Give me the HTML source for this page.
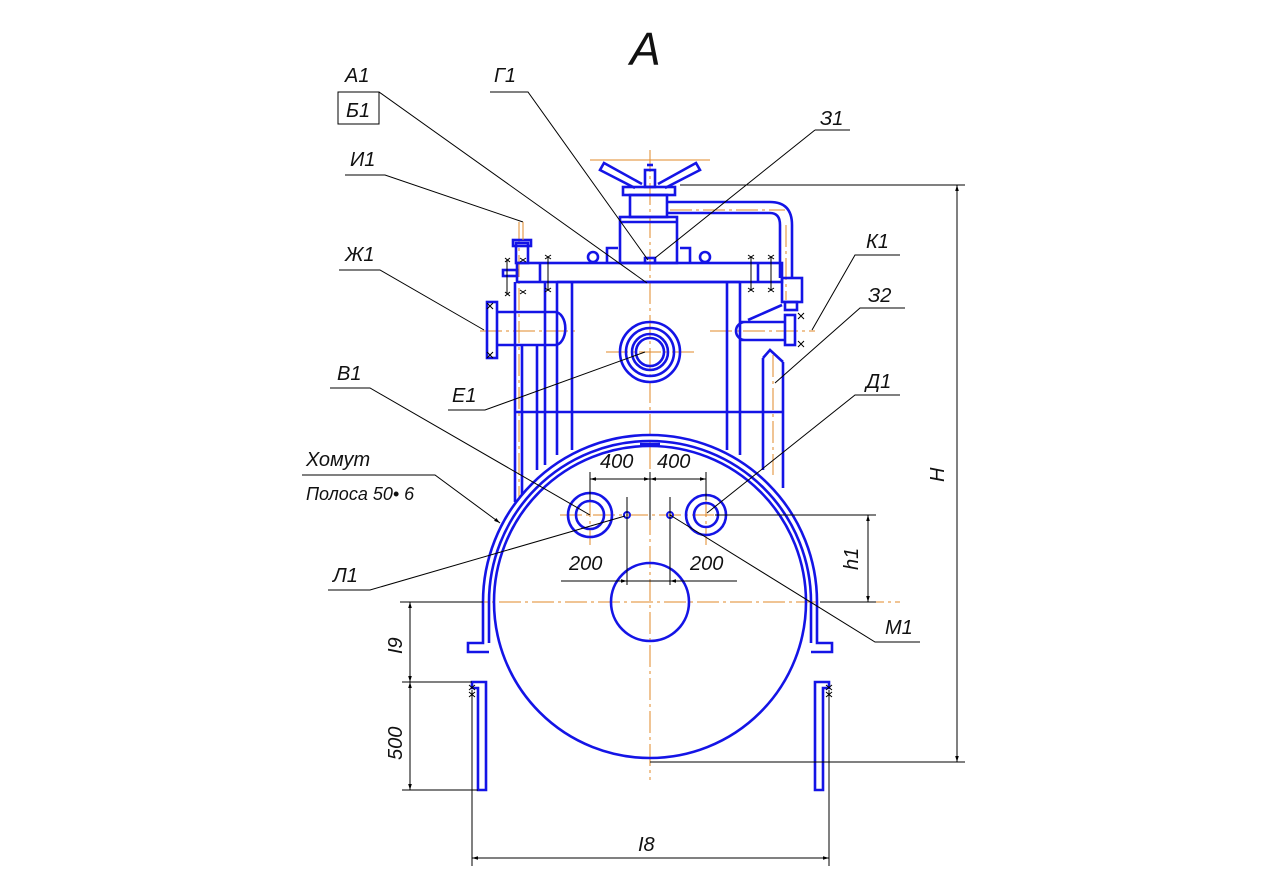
<!DOCTYPE html>
<html><head><meta charset="utf-8"><style>
html,body{margin:0;padding:0;background:#fff}
svg{display:block}
text{font-family:"Liberation Sans",sans-serif;font-style:italic;fill:#111}
</style></head><body>
<svg width="1282" height="888" viewBox="0 0 1282 888" xmlns="http://www.w3.org/2000/svg">
<defs>
<marker id="ar" viewBox="0 0 10 10" refX="10" refY="5" markerWidth="10" markerHeight="6" orient="auto-start-reverse"><path d="M0,2 L10,5 L0,8 z" fill="#000"/></marker>
</defs>
<g stroke="#e08a2a" stroke-width="1" stroke-dasharray="22,4,3,4" fill="none">
<line x1="650" y1="150" x2="650" y2="780"/>
<line x1="400" y1="602" x2="900" y2="602"/>
<line x1="560" y1="515" x2="740" y2="515"/>
<line x1="606" y1="352" x2="694" y2="352"/>
<line x1="480" y1="331" x2="578" y2="331"/>
<line x1="710" y1="331" x2="815" y2="331"/>
<line x1="519" y1="222" x2="519" y2="500"/>
<line x1="773" y1="355" x2="773" y2="475"/>
<line x1="590" y1="160" x2="710" y2="160" stroke-dasharray="none"/>
<line x1="670" y1="210" x2="785" y2="210"/>
<line x1="786" y1="225" x2="786" y2="300"/>
<line x1="590" y1="495" x2="590" y2="545"/>
<line x1="706" y1="495" x2="706" y2="545"/>
</g>
<g stroke="#1414e6" stroke-width="2.6" fill="none">
<path d="M489,643 L489,602 A161,161 0 0 1 811,602 L811,643"/>
<path d="M483,602 A167,167 0 0 1 817,602"/>
<circle cx="650" cy="602" r="156"/>
<circle cx="650" cy="602" r="39"/>
<path d="M483,602 L483,643 L468,643 L468,652 L489,652"/>
<path d="M817,602 L817,643 L832,643 L832,652 L811,652"/>
<path d="M472,682 L486,682 L486,790 L478,790 L478,688 L472,688 Z"/>
<path d="M829,682 L815,682 L815,790 L823,790 L823,688 L829,688 Z"/>
<circle cx="590" cy="515" r="22"/><circle cx="590" cy="515" r="14"/>
<circle cx="706" cy="515" r="20"/><circle cx="706" cy="515" r="12"/>
<circle cx="627" cy="515" r="3" stroke-width="2"/><circle cx="670" cy="515" r="3" stroke-width="2"/>
<line x1="640" y1="444" x2="660" y2="444"/>
<line x1="515" y1="282" x2="515" y2="502"/>
<line x1="522" y1="345" x2="522" y2="495"/>
<line x1="537" y1="345" x2="537" y2="470"/>
<line x1="545" y1="282" x2="545" y2="465"/>
<line x1="557" y1="282" x2="557" y2="455"/>
<line x1="572" y1="282" x2="572" y2="450"/>
<line x1="727" y1="282" x2="727" y2="450"/>
<line x1="740" y1="282" x2="740" y2="455"/>
<line x1="763" y1="358" x2="763" y2="470"/>
<line x1="783" y1="362" x2="783" y2="488"/>
<path d="M763,358 L770,350 L783,362"/>
<line x1="515" y1="412" x2="783" y2="412"/>
<line x1="557" y1="282" x2="740" y2="282"/>
<rect x="517" y="263" width="265" height="19"/>
<line x1="540" y1="263" x2="540" y2="282"/>
<line x1="758" y1="263" x2="758" y2="282"/>
<rect x="503" y="270" width="14" height="6"/>
<rect x="516" y="243" width="12" height="20"/>
<rect x="513" y="240" width="18" height="6"/>
<rect x="620" y="217" width="57" height="46"/>
<line x1="620" y1="222" x2="677" y2="222"/>
<path d="M607,263 L607,248 L618,248 M690,263 L690,248 L680,248"/>
<rect x="630" y="195" width="37" height="22"/>
<rect x="623" y="187" width="52" height="8"/>
<rect x="645" y="170" width="10" height="17"/>
<line x1="647" y1="165" x2="653" y2="165"/>
<path d="M642,184 L604,163 L600,170 L635,188"/>
<path d="M658,184 L696,163 L700,170 L665,188"/>
<rect x="645" y="258" width="10" height="5"/>
<circle cx="593" cy="257" r="5"/><circle cx="705" cy="257" r="5"/>
<path d="M667,202 L770,202 Q792,202 792,225 L792,278"/>
<path d="M667,213 L770,213 Q780,213 780,225 L780,278"/>
<rect x="782" y="278" width="20" height="24"/>
<rect x="785" y="302" width="12" height="8"/>
<path d="M740,322 L785,322 M740,340 L785,340 M745,322 A9,9 0 0 0 745,340"/>
<path d="M748,320 L782,305"/>
<rect x="785" y="315" width="10" height="30"/>
<path d="M497,312 L555,312 A10,16 0 0 1 555,345 L497,345"/>
<rect x="487" y="302" width="10" height="56"/>
<circle cx="650" cy="352" r="30"/>
<circle cx="650" cy="352" r="24"/>
<circle cx="650" cy="352" r="18"/>
<circle cx="650" cy="352" r="14"/>
</g>
<g stroke="#000" stroke-width="1" fill="none">
<path d="M505,258 L510,262 M510,258 L505,262 M505,292 L510,296 M510,292 L505,296 M507,260 L507,294"/>
<path d="M520,258 L526,262 M526,258 L520,262 M520,290 L526,294 M526,290 L520,294"/>
<path d="M545,255 L551,259 M551,255 L545,259 M545,288 L551,292 M551,288 L545,292 M548,257 L548,290"/>
<path d="M748,255 L754,259 M754,255 L748,259 M748,288 L754,292 M754,288 L748,292 M751,257 L751,290"/>
<path d="M768,255 L774,259 M774,255 L768,259 M768,288 L774,292 M774,288 L768,292 M771,257 L771,290"/>
<path d="M487,303 L493,309 M493,303 L487,309 M487,352 L493,358 M493,352 L487,358"/>
<path d="M798,313 L804,319 M804,313 L798,319 M798,341 L804,347 M804,341 L798,347"/>
<path d="M469,685 L475,690 M475,685 L469,690 M469,692 L475,697 M475,692 L469,697"/>
<path d="M826,685 L832,690 M832,685 L826,690 M826,692 L832,697 M832,692 L826,697"/>
</g>
<g stroke="#000" stroke-width="1" fill="none">
<line x1="680" y1="185" x2="965" y2="185"/>
<line x1="650" y1="762" x2="965" y2="762"/>
<line x1="957" y1="185" x2="957" y2="762" marker-start="url(#ar)" marker-end="url(#ar)"/>
<line x1="715" y1="515" x2="876" y2="515"/>
<line x1="820" y1="602" x2="876" y2="602"/>
<line x1="868" y1="515" x2="868" y2="602" marker-start="url(#ar)" marker-end="url(#ar)"/>
<line x1="400" y1="602" x2="483" y2="602"/>
<line x1="402" y1="682" x2="472" y2="682"/>
<line x1="402" y1="790" x2="478" y2="790"/>
<line x1="410" y1="602" x2="410" y2="682" marker-start="url(#ar)" marker-end="url(#ar)"/>
<line x1="410" y1="682" x2="410" y2="790" marker-start="url(#ar)" marker-end="url(#ar)"/>
<line x1="472" y1="690" x2="472" y2="866"/>
<line x1="829" y1="690" x2="829" y2="866"/>
<line x1="472" y1="858" x2="829" y2="858" marker-start="url(#ar)" marker-end="url(#ar)"/>
<line x1="590" y1="472" x2="590" y2="500"/>
<line x1="706" y1="472" x2="706" y2="500"/>
<line x1="650" y1="472" x2="650" y2="520"/>
<line x1="590" y1="479" x2="650" y2="479" marker-start="url(#ar)" marker-end="url(#ar)"/>
<line x1="650" y1="479" x2="706" y2="479" marker-start="url(#ar)" marker-end="url(#ar)"/>
<line x1="627" y1="497" x2="627" y2="585"/>
<line x1="670" y1="497" x2="670" y2="585"/>
<line x1="561" y1="581" x2="627" y2="581" marker-end="url(#ar)"/>
<line x1="737" y1="581" x2="670" y2="581" marker-end="url(#ar)"/>
<line x1="627" y1="581" x2="670" y2="581"/>
<path d="M338,92 L379,92 L647,283"/>
<rect x="338" y="92" width="41" height="32"/>
<path d="M490,92 L528,92 L648,260"/>
<path d="M815,130 L850,130 M815,130 L655,258"/>
<path d="M345,175 L385,175 L523,222"/>
<path d="M339,270 L380,270 L484,330"/>
<path d="M900,255 L855,255 L812,330"/>
<path d="M905,308 L860,308 L775,383"/>
<path d="M448,410 L485,410 L645,352"/>
<path d="M330,388 L370,388 L590,515"/>
<path d="M900,395 L855,395 L707,513"/>
<path d="M302,475 L435,475 L500,523" marker-end="url(#ar)"/>
<path d="M328,590 L370,590 L625,516"/>
<path d="M920,642 L875,642 L670,515"/>
</g>
<line x1="523" y1="222" x2="523" y2="240" stroke="#e08a2a"/>
<text x="630" y="65" font-size="46">A</text>
<text x="345" y="82" font-size="20">A1</text>
<text x="346" y="117" font-size="20">Б1</text>
<text x="494" y="82" font-size="20">Г1</text>
<text x="820" y="125" font-size="20">З1</text>
<text x="350" y="166" font-size="20">И1</text>
<text x="345" y="261" font-size="20">Ж1</text>
<text x="866" y="248" font-size="20">К1</text>
<text x="868" y="302" font-size="20">З2</text>
<text x="452" y="402" font-size="20">Е1</text>
<text x="337" y="380" font-size="20">В1</text>
<text x="866" y="388" font-size="20">Д1</text>
<text x="306" y="466" font-size="20">Хомут</text>
<text x="306" y="500" font-size="18">Полоса 50• 6</text>
<text x="333" y="582" font-size="20">Л1</text>
<text x="885" y="634" font-size="20">М1</text>
<text x="600" y="468" font-size="20">400</text>
<text x="657" y="468" font-size="20">400</text>
<text x="569" y="570" font-size="20">200</text>
<text x="690" y="570" font-size="20">200</text>
<text x="638" y="851" font-size="20">I8</text>
<text font-size="20" transform="translate(944,482) rotate(-90)">H</text>
<text font-size="20" transform="translate(858,570) rotate(-90)">h1</text>
<text font-size="20" transform="translate(402,654) rotate(-90)">I9</text>
<text font-size="20" transform="translate(402,760) rotate(-90)">500</text>
</svg>
</body></html>
